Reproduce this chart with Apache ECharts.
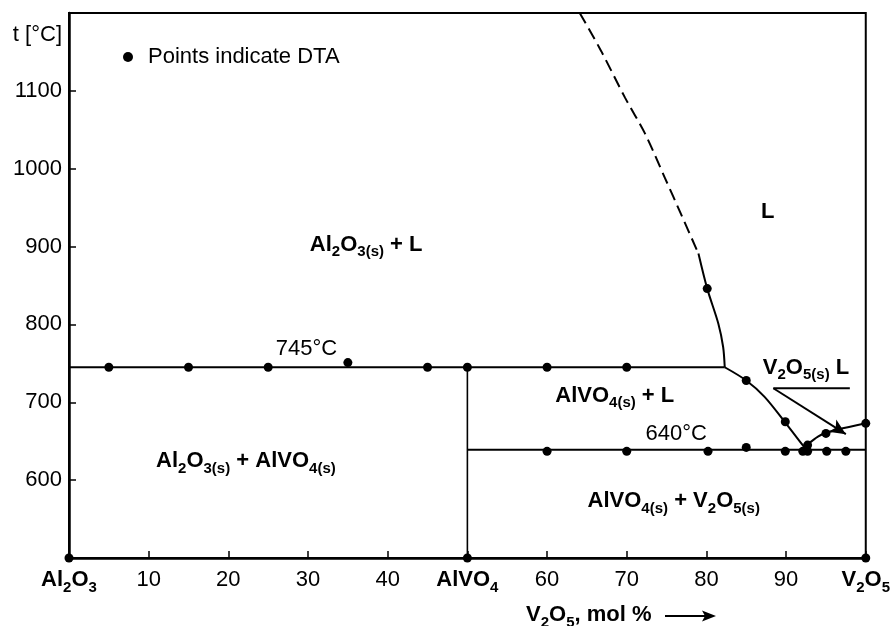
<!DOCTYPE html>
<html>
<head>
<meta charset="utf-8">
<script src="https://cdn.jsdelivr.net/npm/echarts@6/dist/echarts.min.js"></script>
<style>html,body{margin:0;padding:0;background:#fff;}#c{width:893px;height:626px;}</style>
</head>
<body>
<div id="c"></div>
<script>
// ---- data ----
const xTickLabels = ['{b|Al}{bs|2}{b|O}{bs|3}', '{r|10}', '{r|20}', '{r|30}', '{r|40}', '{b|AlVO}{bs|4}', '{r|60}', '{r|70}', '{r|80}', '{r|90}', '{b|V}{bs|2}{b|O}{bs|5}'];
const yTickLabels = ['', '600', '700', '800', '900', '1000', '1100', ''];
const line745 = [[0, 745], [82.3, 745]];
const line640 = [[50, 639], [100, 639]];
const lineAlVO4 = [[50, 500], [50, 745]];
const liquidusDashed = [[64.1, 1200], [66.8, 1151], [69.8, 1091], [72.3, 1045], [74.8, 988], [76.8, 942], [79.0, 891]];
const liquidusUpper = [[79.0, 891], [80.1, 846], [81.5, 801], [82.1, 771], [82.3, 745]];
const liquidusLower = [[82.3, 745], [85, 728], [87.3, 707], [89.9, 674], [92.3, 642]];
const liquidusV2O5 = [[92.3, 642], [92.7, 646], [94, 656], [95, 660.5], [96.5, 665], [100, 673]];
const dtaPoints = [
  [5, 745], [15, 745], [25, 745], [35, 751], [45, 745], [50, 745], [60, 745], [70, 745],
  [80.1, 846], [85, 728], [89.9, 675], [92.7, 645], [95, 660], [100, 673],
  [60, 637], [70, 637], [80.2, 637], [85, 642], [89.9, 637], [92.1, 637], [92.7, 637], [95.1, 637], [97.5, 637],
  [0, 500], [50, 500], [100, 500]
];
const underline = [[88.4, 718], [98, 718]];
const arrowFrom = [88.4, 718];
const arrowTo = [97.5, 659];
const regionLabels = [
  [37.3, 901, '{b|Al}{bs|2}{b|O}{bs|3(s)}{b| + L}'],
  [87.7, 943, '{b|L}'],
  [29.8, 767, '{r|745°C}'],
  [68.5, 707, '{b|AlVO}{bs|4(s)}{b| + L}'],
  [76.2, 658, '{r|640°C}'],
  [22.2, 623, '{b|Al}{bs|2}{b|O}{bs|3(s)}{b| + AlVO}{bs|4(s)}'],
  [75.9, 572, '{b|AlVO}{bs|4(s)}{b| + V}{bs|2}{b|O}{bs|5(s)}'],
  [92.5, 743, '{b|V}{bs|2}{b|O}{bs|5(s)}{b| L}']
];
const legendName = 'Points indicate DTA';

// ---- styles ----
const fam = "'Liberation Sans', Arial, Helvetica, sans-serif";
const ink = '#000';
const rich = {
  b: {fontFamily: fam, fontSize: 22, fontWeight: 'bold', color: ink, lineHeight: 24, verticalAlign: 'top'},
  bs: {fontFamily: fam, fontSize: 15, fontWeight: 'bold', color: ink, lineHeight: 16, padding: [11, 0, 0, 0], verticalAlign: 'top'},
  r: {fontFamily: fam, fontSize: 22, color: ink, lineHeight: 24, verticalAlign: 'top'}
};
const lineSeries = (data, extra) => Object.assign({
  type: 'line', data: data, symbol: 'none', silent: true, clip: false,
  lineStyle: {color: ink, width: 2}
}, extra || {});

const chart = echarts.init(document.getElementById('c'), null, {renderer: 'canvas'});
chart.setOption({
  animation: false,
  backgroundColor: '#fff',
  grid: {left: 69, right: 25, top: 13, bottom: 68, show: true, borderColor: ink, borderWidth: 2, backgroundColor: 'transparent'},
  legend: {
    data: [{name: legendName, icon: 'circle'}],
    left: 123, top: 46, padding: 0, itemWidth: 10, itemHeight: 10,
    textStyle: {fontFamily: fam, fontSize: 22, color: ink, padding: [0, 0, 0, 10]}
  },
  xAxis: {
    type: 'value', min: 0, max: 100, interval: 10,
    splitLine: {show: false},
    axisLine: {show: true, onZero: false, lineStyle: {color: ink, width: 2.5}},
    axisTick: {show: true, inside: true, length: 7, lineStyle: {color: ink, width: 1.5}},
    axisLabel: {
      margin: 11, showMinLabel: true, showMaxLabel: true, hideOverlap: false,
      formatter: v => xTickLabels[Math.round(v / 10)], rich: rich
    }
  },
  yAxis: {
    type: 'value', min: 500, max: 1200, interval: 100,
    splitLine: {show: false},
    axisLine: {show: true, onZero: false, lineStyle: {color: ink, width: 2.5}},
    axisTick: {show: true, inside: true, length: 7, lineStyle: {color: ink, width: 1.5}},
    axisLabel: {
      margin: 7, fontFamily: fam, fontSize: 22, color: ink,
      formatter: v => yTickLabels[Math.round((v - 500) / 100)]
    }
  },
  graphic: [
    {type: 'text', x: 62, y: 35, style: {text: 't [°C]', align: 'right', verticalAlign: 'middle', fontFamily: fam, fontSize: 22, fill: ink}},
    {type: 'text', x: 526, y: 604, style: {text: '{b|V}{bs|2}{b|O}{bs|5}{b|, mol %}', rich: rich}},
    {type: 'line', shape: {x1: 665, y1: 616, x2: 708, y2: 616}, style: {stroke: ink, lineWidth: 2}},
    {type: 'polygon', shape: {points: [[702, 610.5], [716, 616], [702, 621.5], [705, 616]]}, style: {fill: ink}}
  ],
  series: [
    lineSeries(line745),
    lineSeries(line640),
    lineSeries(lineAlVO4, {lineStyle: {color: ink, width: 1.6}}),
    lineSeries(liquidusDashed, {smooth: 0.3, lineStyle: {color: ink, width: 2, type: [12, 6]}}),
    lineSeries(liquidusUpper, {smooth: 0.3}),
    lineSeries(liquidusLower, {smooth: 0.3}),
    lineSeries(liquidusV2O5, {smooth: 0.3}),
    lineSeries(underline, {
      markLine: {
        silent: true, symbol: ['none', 'arrow'], symbolSize: [11, 16],
        lineStyle: {color: ink, width: 2, type: 'solid', opacity: 1}, label: {show: false},
        data: [[{coord: arrowFrom}, {coord: arrowTo}]]
      }
    }),
    {
      name: legendName, type: 'scatter', data: dtaPoints, symbol: 'circle', symbolSize: 9, clip: false,
      itemStyle: {color: ink, opacity: 1}, silent: true, z: 5
    },
    {
      type: 'scatter', symbolSize: 0, silent: true, clip: false,
      itemStyle: {opacity: 1},
      data: regionLabels.map(d => ({value: [d[0], d[1]], label: {formatter: d[2]}})),
      label: {show: true, position: 'inside', color: ink, opacity: 1, rich: rich}
    }
  ]
});
</script>
</body>
</html>
